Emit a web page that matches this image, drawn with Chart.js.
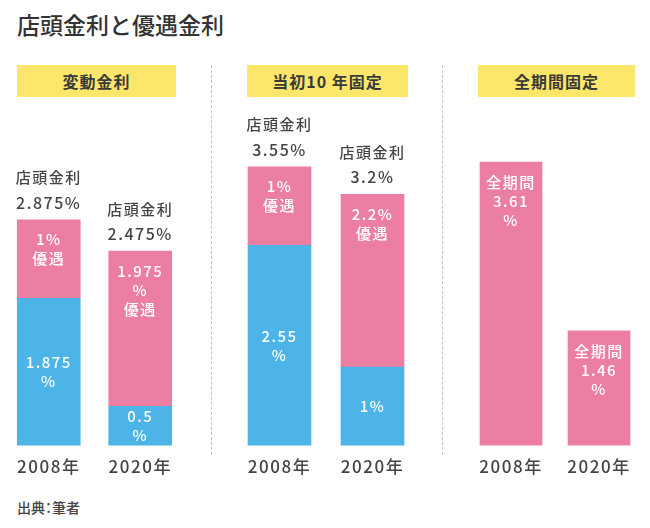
<!DOCTYPE html>
<html>
<head>
<meta charset="utf-8">
<script src="https://cdn.jsdelivr.net/npm/chart.js@4"></script>
<style>
  body { margin: 0; background: #fff; font-family: "Noto Sans CJK JP", "Noto Sans", sans-serif; color: #333; }
  #wrap { position: relative; width: 650px; height: 528px; overflow: hidden; }
  .title { position: absolute; left: 17px; top: 9px; font-size: 23px; font-weight: 500; color: #333; line-height: 30px; }
  .head { position: absolute; top: 65px; height: 32px; line-height: 32px; background: #fde76b; text-align: center; font-size: 16px; font-weight: 700; color: #3a3a3a; letter-spacing: 1px; }
  .sep { position: absolute; top: 65px; height: 390px; border-left: 1.5px dashed #c4c4c4; }
  .src { position: absolute; left: 17px; top: 497px; font-size: 14px; color: #444; font-weight: 500; font-feature-settings: "palt"; }
  canvas { position: absolute; top: 100px; }
</style>
</head>
<body>
<div id="wrap">
  <div class="title">店頭金利と優遇金利</div>
  <div class="head" style="left:17px;width:159px;">変動金利</div>
  <div class="head" style="left:247px;width:161px;">当初10 年固定</div>
  <div class="head" style="left:478px;width:157px;">全期間固定</div>
  <div class="sep" style="left:211px;"></div>
  <div class="sep" style="left:442px;"></div>
  <canvas id="c1" width="183" height="388" style="left:3px;"></canvas>
  <canvas id="c2" width="186" height="388" style="left:233px;"></canvas>
  <canvas id="c3" width="176" height="388" style="left:467px;"></canvas>
  <div class="src">出典：筆者</div>
</div>
<script>
// data
var years = ["2008年", "2020年"];

// 変動金利
var hendouStore = [2.875, 2.475];
var hendouApplied = [1.875, 0.5];
var hendouDiscount = [1, 1.975];

// 当初10年固定
var koteiStore = [3.55, 3.2];
var koteiApplied = [2.55, 1];
var koteiDiscount = [1, 2.2];

// 全期間固定
var zenkikanRate = [3.61, 1.46];

// label lines
var hendouAppliedText = [["1.875", "%"], ["0.5", "%"]];
var hendouDiscountText = [["1%", "優遇"], ["1.975", "%", "優遇"]];
var koteiAppliedText = [["2.55", "%"], ["1%"]];
var koteiDiscountText = [["1%", "優遇"], ["2.2%", "優遇"]];
var zenkikanText = [["全期間", "3.61", "%"], ["全期間", "1.46", "%"]];

const BLUE = "#4db4e7";
const PINK = "#ec7fa1";
const FONT = '"Noto Sans CJK JP", "Noto Sans", sans-serif';

const barLabels = {
  id: "barLabels",
  beforeDraw(chart) {
    chart.ctx.letterSpacing = "1.5px";
  },
  afterDatasetsDraw(chart, args, opts) {
    const ctx = chart.ctx;
    ctx.save();
    ctx.letterSpacing = "1.5px";
    ctx.textAlign = "center";
    ctx.textBaseline = "middle";
    chart.data.datasets.forEach((ds, di) => {
      const meta = chart.getDatasetMeta(di);
      meta.data.forEach((bar, i) => {
        const lines = ds.inner[i];
        const top = Math.min(bar.y, bar.base);
        const bottom = Math.max(bar.y, bar.base);
        let y;
        if (ds.innerAlign == "top") {
          y = top + 20;
        } else {
          y = (top + bottom) / 2 - (lines.length - 1) * 19 / 2;
        }
        ctx.fillStyle = "#fff";
        ctx.font = "500 15px " + FONT;
        lines.forEach((t, k) => {
          ctx.fillText(t, bar.x, y + k * 19);
        });
      });
    });
    // store rate above the stack
    if (opts.store) {
      const last = chart.getDatasetMeta(chart.data.datasets.length - 1);
      last.data.forEach((bar, i) => {
        ctx.fillStyle = "#444";
        ctx.font = "500 15px " + FONT;
        ctx.fillText("店頭金利", bar.x, bar.y - 42);
        ctx.font = "500 16px " + FONT;
        ctx.fillText(opts.store[i] + "%", bar.x, bar.y - 17);
      });
    }
    ctx.restore();
  },
};

function makeChart(id, datasets, store) {
  return new Chart(document.getElementById(id), {
    type: "bar",
    data: { labels: years, datasets: datasets },
    options: {
      responsive: false,
      animation: false,
      layout: { padding: 0 },
      plugins: {
        legend: { display: false },
        tooltip: { enabled: false },
        barLabels: { store: store },
      },
      scales: {
        x: {
          stacked: true,
          grid: { display: false, drawTicks: false },
          border: { display: false },
          ticks: { color: "#444", padding: 11, font: { family: FONT, size: 17, weight: "500" } },
        },
        y: { stacked: true, display: false, min: 0, max: 4.4 },
      },
    },
    plugins: [barLabels],
  });
}

makeChart("c1", [
  { data: hendouApplied, backgroundColor: BLUE, barThickness: 63, inner: hendouAppliedText, innerAlign: "center" },
  { data: hendouDiscount, backgroundColor: PINK, barThickness: 63, inner: hendouDiscountText, innerAlign: "top" },
], hendouStore);

makeChart("c2", [
  { data: koteiApplied, backgroundColor: BLUE, barThickness: 63, inner: koteiAppliedText, innerAlign: "center" },
  { data: koteiDiscount, backgroundColor: PINK, barThickness: 63, inner: koteiDiscountText, innerAlign: "top" },
], koteiStore);

makeChart("c3", [
  { data: zenkikanRate, backgroundColor: PINK, barThickness: 62, inner: zenkikanText, innerAlign: "top" },
], null);
</script>
</body>
</html>
